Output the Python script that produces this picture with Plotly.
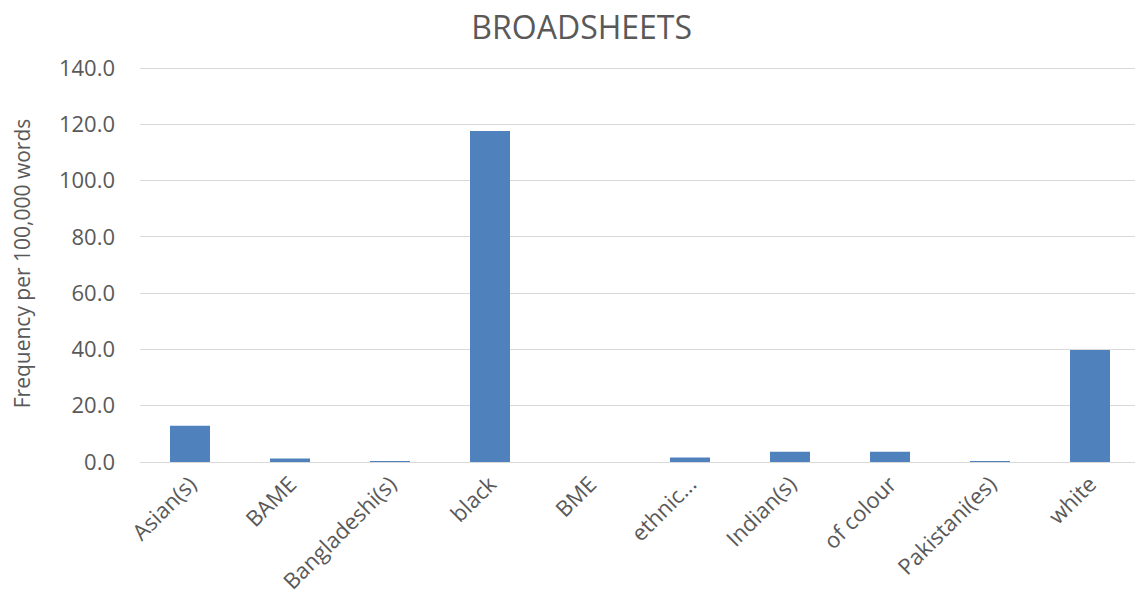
import plotly.graph_objects as go

# Frequency of ethnicity terms in broadsheet newspapers
categories = ["Asian(s)", "BAME", "Bangladeshi(s)", "black", "BME",
              "ethnic...", "Indian(s)", "of colour", "Pakistani(es)", "white"]
frequency = [12.9, 1.2, 0.3, 117.6, 0.0, 1.6, 3.6, 3.6, 0.3, 39.8]
y_ticks = [0, 20, 40, 60, 80, 100, 120, 140]

TEXT = "#595959"
FONT = "Open Sans"

fig = go.Figure(
    go.Bar(
        x=list(range(len(categories))),
        y=frequency,
        marker=dict(color="#4f81bd", line=dict(width=0)),
        width=0.4,
    )
)

fig.update_layout(
    width=1135,
    height=608,
    margin=dict(l=140, r=0, t=65, b=146),
    paper_bgcolor="white",
    plot_bgcolor="white",
    showlegend=False,
    font=dict(family=FONT, color=TEXT, size=22),
    title=dict(
        text="BROADSHEETS",
        x=0.5125,
        xanchor="center",
        y=0.955,
        yanchor="middle",
        font=dict(family=FONT, size=32, color=TEXT),
    ),
)

fig.update_xaxes(
    tickmode="array",
    tickvals=list(range(len(categories))),
    ticktext=categories,
    tickangle=-45,
    range=[-0.5, 9.45],
    showgrid=False,
    showline=False,
    ticks="",
    ticklabelstandoff=4,
    tickfont=dict(family=FONT, size=22, color=TEXT),
)

fig.update_yaxes(
    range=[0, 141.1],
    tickvals=y_ticks,
    tickformat=".1f",
    showgrid=True,
    gridcolor="#d9d9d9",
    gridwidth=1,
    zeroline=True,
    zerolinecolor="#d9d9d9",
    zerolinewidth=1,
    showline=False,
    ticks="",
    ticklabelstandoff=24,
    tickfont=dict(family=FONT, size=22, color=TEXT),
    title=dict(text="Frequency per 100,000 words",
               font=dict(family=FONT, size=21, color=TEXT),
               standoff=22),
)

fig.write_html("out.html")
